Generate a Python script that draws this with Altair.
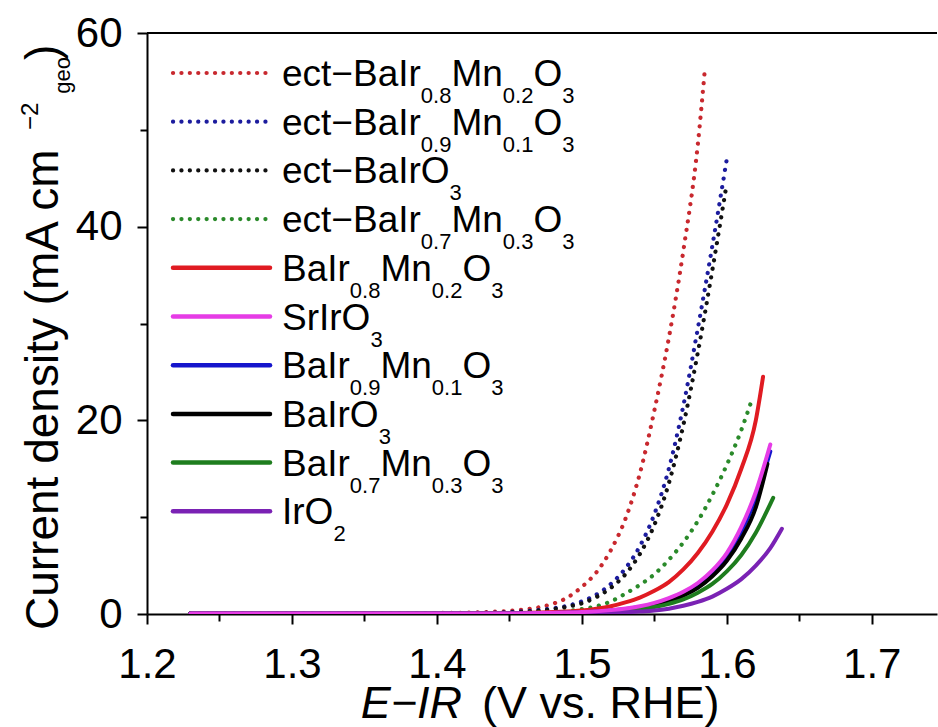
import re
import altair as alt
import pandas as pd

# ---------------- data: LSV curves (E-IR in V vs. RHE, current density in mA cm^-2) ----------------
series_labels = [
    "ect−BaIr_{0.8}Mn_{0.2}O_{3}",
    "ect−BaIr_{0.9}Mn_{0.1}O_{3}",
    "ect−BaIrO_{3}",
    "ect−BaIr_{0.7}Mn_{0.3}O_{3}",
    "BaIr_{0.8}Mn_{0.2}O_{3}",
    "SrIrO_{3}",
    "BaIr_{0.9}Mn_{0.1}O_{3}",
    "BaIrO_{3}",
    "BaIr_{0.7}Mn_{0.3}O_{3}",
    "IrO_{2}",
]
series_colors = ["#c8282e", "#1c1c9e", "#111111", "#2a8a2a",
                 "#e01b22", "#e63ce6", "#1515cc", "#000000", "#1e7d1e", "#7a22b4"]
series_dotted = [True, True, True, True, False, False, False, False, False, False]

v_ect_08 = [1.23, 1.30, 1.35, 1.40, 1.43, 1.45, 1.46, 1.47, 1.48, 1.49, 1.50, 1.51, 1.52, 1.53,
            1.54, 1.55, 1.56, 1.57, 1.58, 1.585]
j_ect_08 = [0.05, 0.05, 0.06, 0.10, 0.18, 0.32, 0.45, 0.68, 1.05, 1.7, 2.8, 4.3, 6.6, 9.8,
            14.5, 21.0, 28.5, 37.5, 48.5, 56.5]

v_ect_09 = [1.23, 1.30, 1.35, 1.40, 1.43, 1.45, 1.46, 1.47, 1.48, 1.49, 1.50, 1.51, 1.52, 1.53,
            1.54, 1.55, 1.56, 1.57, 1.58, 1.59, 1.60]
j_ect_09 = [0.05, 0.05, 0.05, 0.08, 0.12, 0.20, 0.28, 0.40, 0.58, 0.85, 1.3, 2.0, 3.1, 4.7,
            7.0, 10.3, 15.0, 21.5, 29.5, 38.0, 47.0]

v_ect_10 = [1.23, 1.30, 1.35, 1.40, 1.43, 1.45, 1.46, 1.47, 1.48, 1.49, 1.50, 1.51, 1.52, 1.53,
            1.54, 1.55, 1.56, 1.57, 1.58, 1.59, 1.60]
j_ect_10 = [0.05, 0.05, 0.05, 0.07, 0.10, 0.17, 0.24, 0.34, 0.50, 0.75, 1.1, 1.75, 2.7, 4.1,
            6.2, 9.2, 13.5, 19.5, 27.0, 35.5, 44.5]

v_ect_07 = [1.23, 1.30, 1.35, 1.40, 1.43, 1.45, 1.47, 1.49, 1.50, 1.51, 1.52, 1.53, 1.54, 1.55,
            1.56, 1.57, 1.58, 1.59, 1.60, 1.61, 1.617]
j_ect_07 = [0.04, 0.04, 0.05, 0.06, 0.08, 0.10, 0.16, 0.30, 0.50, 0.80, 1.3, 2.1, 3.0, 4.1,
            5.6, 7.4, 9.6, 12.3, 15.4, 19.0, 22.0]

v_bim_08 = [1.23, 1.30, 1.35, 1.40, 1.45, 1.48, 1.50, 1.52, 1.53, 1.54, 1.55, 1.56, 1.57, 1.58,
            1.59, 1.60, 1.61, 1.62, 1.625]
j_bim_08 = [0.04, 0.04, 0.04, 0.05, 0.08, 0.20, 0.35, 0.80, 1.2, 1.7, 2.4, 3.3, 4.6, 6.3,
            8.5, 11.3, 15.0, 20.0, 24.5]

v_sro = [1.23, 1.30, 1.35, 1.40, 1.45, 1.48, 1.50, 1.52, 1.54, 1.55, 1.56, 1.57, 1.58, 1.59,
         1.60, 1.61, 1.62, 1.63]
j_sro = [0.04, 0.04, 0.04, 0.04, 0.06, 0.12, 0.20, 0.40, 0.80, 1.15, 1.65, 2.3, 3.2, 4.5,
         6.3, 9.0, 12.6, 17.5]

v_bim_09 = [1.23, 1.30, 1.35, 1.40, 1.45, 1.48, 1.50, 1.52, 1.54, 1.55, 1.56, 1.57, 1.58, 1.59,
            1.60, 1.61, 1.62, 1.63]
j_bim_09 = [0.04, 0.04, 0.04, 0.04, 0.06, 0.11, 0.18, 0.36, 0.72, 1.05, 1.5, 2.1, 3.0, 4.3,
            6.0, 8.5, 12.0, 16.8]

v_bio = [1.23, 1.30, 1.35, 1.40, 1.45, 1.48, 1.50, 1.52, 1.54, 1.55, 1.56, 1.57, 1.58, 1.59,
         1.60, 1.61, 1.62, 1.628]
j_bio = [0.04, 0.04, 0.04, 0.04, 0.05, 0.10, 0.16, 0.32, 0.65, 0.95, 1.35, 1.9, 2.7, 3.9,
         5.5, 7.8, 11.0, 15.5]

v_bim_07 = [1.23, 1.30, 1.35, 1.40, 1.45, 1.48, 1.50, 1.52, 1.54, 1.55, 1.56, 1.57, 1.58, 1.59,
            1.60, 1.61, 1.62, 1.632]
j_bim_07 = [0.04, 0.04, 0.04, 0.04, 0.05, 0.08, 0.13, 0.25, 0.50, 0.72, 1.05, 1.5, 2.2, 3.1,
            4.4, 6.1, 8.4, 12.0]

v_iro2 = [1.23, 1.30, 1.35, 1.40, 1.45, 1.48, 1.50, 1.52, 1.54, 1.55, 1.56, 1.57, 1.58, 1.59,
          1.60, 1.61, 1.62, 1.63, 1.638]
j_iro2 = [0.04, 0.04, 0.04, 0.04, 0.04, 0.06, 0.08, 0.14, 0.25, 0.35, 0.55, 0.85, 1.25, 1.8,
          2.6, 3.6, 5.0, 6.8, 8.8]

series_v = [v_ect_08, v_ect_09, v_ect_10, v_ect_07, v_bim_08, v_sro, v_bim_09, v_bio, v_bim_07, v_iro2]
series_j = [j_ect_08, j_ect_09, j_ect_10, j_ect_07, j_bim_08, j_sro, j_bim_09, j_bio, j_bim_07, j_iro2]

# drawing order: dotted first, then solids, SrIrO3 on top
draw_order = [0, 1, 2, 3, 4, 6, 7, 8, 9, 5]

x_ticks = [1.2, 1.25, 1.3, 1.35, 1.4, 1.45, 1.5, 1.55, 1.6, 1.65, 1.7]
y_ticks = [0, 10, 20, 30, 40, 50, 60]

y_title = "Current density  (mA cm^{−2}_{geo})"
x_title_italic = "E−IR"
x_title_rest = "(V vs. RHE)"

# ---------------- layout ----------------
W, H = 790, 581
PAD_L, PAD_T = 147, 33
X_DOMAIN = [1.2, 1.745]
Y_DOMAIN = [0, 60]

SANS = "Liberation Sans, Arial, sans-serif"

# Arial / Liberation Sans advance widths (per 1000 em) for laying out rich text runs
ADV = {" ": 278, "(": 333, ")": 333, ".": 278, "−": 584, "-": 333,
       "A": 667, "B": 667, "C": 722, "E": 667, "H": 722, "I": 278, "M": 833, "O": 778,
       "R": 722, "S": 667, "V": 667,
       "a": 556, "c": 500, "d": 556, "e": 556, "g": 556, "i": 222, "m": 833, "n": 556,
       "o": 556, "r": 333, "s": 500, "t": 278, "u": 556, "v": 500, "y": 500}
for _d in "0123456789":
    ADV[_d] = 556


def run_width(s, size):
    return sum(ADV.get(ch, 556) for ch in s) / 1000.0 * size


def runs(markup):
    out = []
    for tok in re.split(r"(_\{[^}]*\}|\^\{[^}]*\})", markup):
        if not tok:
            continue
        if tok.startswith("_{"):
            out.append((tok[2:-1], "sub"))
        elif tok.startswith("^{"):
            out.append((tok[2:-1], "sup"))
        else:
            out.append((tok, "main"))
    return out


# ---------------- axes ----------------
x_axis = alt.Axis(
    values=x_ticks, title=None, grid=False,
    labelExpr="round(datum.value*100) % 10 == 0 ? format(datum.value, '.1f') : ''",
    tickSize={"condition": {"test": "round(datum.value*100) % 10 == 0", "value": 10}, "value": 7},
    tickWidth=2, tickColor="black", domainWidth=2, domainColor="black",
    labelFont=SANS, labelFontSize=42, labelColor="black", labelPadding=20,
    labelFlush=False, labelOverlap=False,
)
y_axis = alt.Axis(
    values=y_ticks, title=None, grid=False,
    labelExpr="datum.value % 20 == 0 ? datum.label : ''",
    tickSize={"condition": {"test": "datum.value % 20 == 0", "value": 10}, "value": 7},
    tickWidth=2, tickColor="black", domainWidth=2, domainColor="black",
    labelFont=SANS, labelFontSize=42, labelColor="black", labelPadding=15,
    labelFlush=False, labelOverlap=False,
)
x_scale = alt.Scale(domain=X_DOMAIN, nice=False, zero=False)
y_scale = alt.Scale(domain=Y_DOMAIN, nice=False)

layers = []
for idx in draw_order:
    df = pd.DataFrame({"V": series_v[idx], "J": series_j[idx]})
    if series_dotted[idx]:
        mk = dict(strokeDash=[0.1, 8.6], strokeWidth=4.2, strokeCap="round")
    else:
        mk = dict(strokeWidth=4, strokeCap="round")
    layers.append(
        alt.Chart(df).mark_line(color=series_colors[idx], interpolate="monotone", clip=True, **mk)
        .encode(x=alt.X("V:Q", scale=x_scale, axis=x_axis),
                y=alt.Y("J:Q", scale=y_scale, axis=y_axis))
    )

# top frame line
layers.append(
    alt.Chart(pd.DataFrame({"k": [0]})).mark_rule(color="black", strokeWidth=2)
    .encode(y=alt.value(0))
)

# ---------------- legend ----------------
LEG_X0, LEG_X1, LEG_TX = 26, 123, 135
LEG_Y0, LEG_DY = 40, 48.7
LEG_F, LEG_SUB = 37, 22

sample_rows = []
text_rows = []
for i, lab in enumerate(series_labels):
    yc = LEG_Y0 + LEG_DY * i
    sample_rows.append({"x": LEG_X0, "x2": LEG_X1, "y": yc, "c": series_colors[i],
                        "dotted": series_dotted[i]})
    x = LEG_TX
    for txt, kind in runs(lab):
        size = LEG_F if kind == "main" else LEG_SUB
        yb = yc + 13 if kind == "main" else yc + 30
        text_rows.append({"x": x, "y": yb, "t": txt, "s": size})
        x += run_width(txt, size)

samples = pd.DataFrame(sample_rows)
for dotted in (True, False):
    sub = samples[samples["dotted"] == dotted]
    mk = dict(strokeDash=[0.1, 8.3], strokeWidth=4.2) if dotted else dict(strokeWidth=4.5)
    layers.append(
        alt.Chart(sub).mark_rule(strokeCap="round", **mk).encode(
            x=alt.X("x:Q", scale=None, axis=None),
            x2="x2:Q",
            y=alt.Y("y:Q", scale=None, axis=None),
            color=alt.Color("c:N", scale=None, legend=None),
        )
    )

layers.append(
    alt.Chart(pd.DataFrame(text_rows)).mark_text(
        align="left", baseline="alphabetic", font=SANS, color="black"
    ).encode(
        x=alt.X("x:Q", scale=None, axis=None),
        y=alt.Y("y:Q", scale=None, axis=None),
        text="t:N",
        size=alt.Size("s:Q", scale=None, legend=None),
    )
)

# ---------------- y-axis title (rotated rich text, reads bottom to top) ----------------
YT_X, YT_Y0 = 58 - PAD_L, 630 - PAD_T
YT_SIZE = {"main": 46, "sup": 24, "sub": 22}
YT_SHIFT = {"main": 0, "sup": -20, "sub": 12}
YT_GAP = {"main": -3, "sup": 4, "sub": 9}
yt_rows = []
pos = YT_Y0
for k, (txt, kind) in enumerate(runs(y_title)):
    if k > 0:
        pos -= YT_GAP[kind]
    size = YT_SIZE[kind]
    yt_rows.append({"x": YT_X + YT_SHIFT[kind], "y": pos, "t": txt, "s": size})
    pos -= run_width(txt, size)

layers.append(
    alt.Chart(pd.DataFrame(yt_rows)).mark_text(
        align="left", baseline="alphabetic", angle=270, font=SANS, color="black"
    ).encode(
        x=alt.X("x:Q", scale=None, axis=None),
        y=alt.Y("y:Q", scale=None, axis=None),
        text="t:N",
        size=alt.Size("s:Q", scale=None, legend=None),
    )
)

# ---------------- x-axis title ----------------
XT_BASE = 718 - PAD_T
layers.append(
    alt.Chart(pd.DataFrame({"x": [462 - PAD_L], "y": [XT_BASE], "t": [x_title_italic]})).mark_text(
        align="right", baseline="alphabetic", font=SANS, fontSize=45, fontStyle="italic", color="black"
    ).encode(x=alt.X("x:Q", scale=None, axis=None), y=alt.Y("y:Q", scale=None, axis=None), text="t:N")
)
layers.append(
    alt.Chart(pd.DataFrame({"x": [482 - PAD_L], "y": [XT_BASE], "t": [x_title_rest]})).mark_text(
        align="left", baseline="alphabetic", font=SANS, fontSize=45, color="black"
    ).encode(x=alt.X("x:Q", scale=None, axis=None), y=alt.Y("y:Q", scale=None, axis=None), text="t:N")
)

chart = alt.layer(*layers).properties(
    width=W, height=H,
    padding={"left": PAD_L, "top": PAD_T, "right": 938 - PAD_L - W, "bottom": 727 - PAD_T - H},
    autosize=alt.AutoSizeParams(type="none"),
    background="white",
).configure_view(stroke=None)

chart.save("out.html", embed_options={"renderer": "svg", "actions": False})
